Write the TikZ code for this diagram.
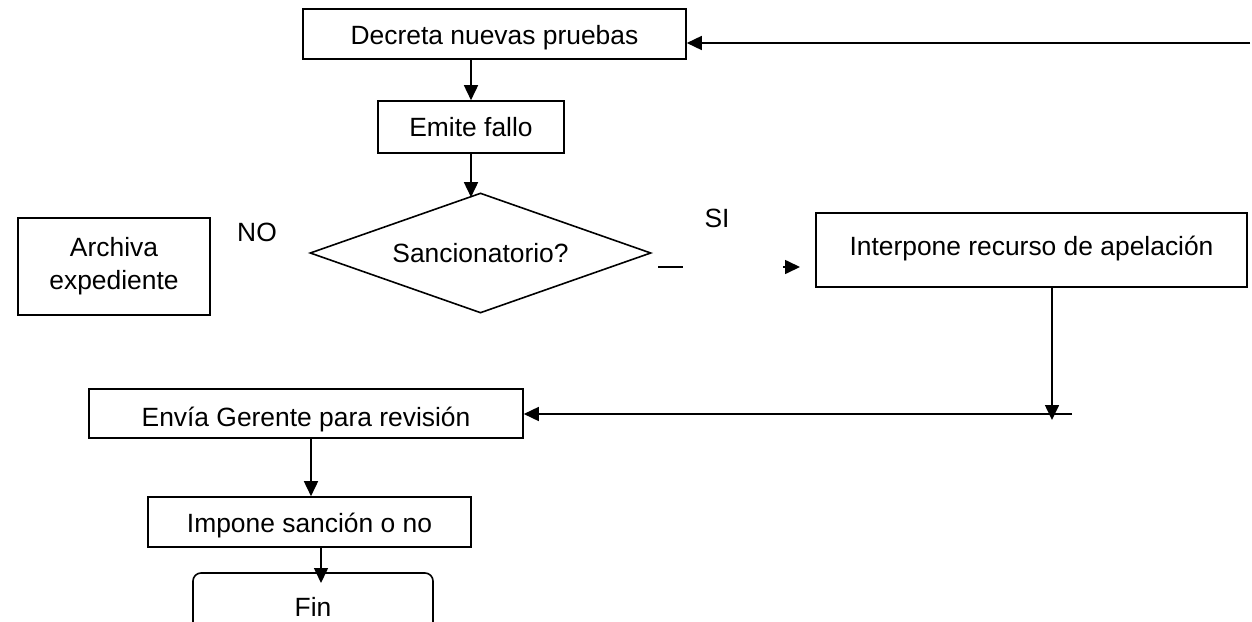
\documentclass[tikz,border=0pt]{standalone}
\usepackage{fontspec}
\setmainfont{Liberation Sans}
\usetikzlibrary{arrows.meta,shapes.geometric}
\begin{document}
\begin{tikzpicture}[x=1pt,y=-1pt,
  every node/.style={font=\fontsize{26.4}{33}\selectfont},
  box/.style={draw,line width=1.6pt,inner sep=0pt},
  one/.style={text depth=0pt},
  lbl/.style={inner sep=0pt},
  arr/.style={line width=1.6pt,-{Triangle[length=15pt,width=14pt]}},
  ln/.style={line width=1.6pt}]
\clip (0,0) rectangle (1252,621);
\useasboundingbox (0,0) rectangle (1252,621);
% nodes
\node[box,one,minimum width=383pt,minimum height=50pt] (dec) at (494.5,34) {\raisebox{-2pt}{Decreta nuevas pruebas}};
\node[box,one,minimum width=186pt,minimum height=52pt] (emite) at (471,127) {Emite fallo};
\node[box,diamond,aspect=2.84,minimum width=341pt,minimum height=120pt] (dia) at (480.5,253) {Sancionatorio?};
\node[box,minimum width=192pt,minimum height=97pt,align=center] (arch) at (114,266.5) {Archiva\\expediente};
\node[lbl] (no) at (257,232) {NO};
\node[lbl] (si) at (717,218) {SI};
\node[box,one,minimum width=431pt,minimum height=74pt] (inter) at (1031.5,250) {\raisebox{8pt}{Interpone recurso de apelación}};
\node[box,one,minimum width=434pt,minimum height=49pt] (envia) at (306,413.5) {\raisebox{-6pt}{Envía Gerente para revisión}};
\node[box,one,minimum width=323pt,minimum height=50pt] (impone) at (309.5,522) {\raisebox{-1.5pt}{Impone sanción o no}};
\node[box,rounded corners=8pt,minimum width=240pt,minimum height=68pt] (fin) at (313,607) {Fin};
% free ends
\coordinate (r1) at (1250,43);
\coordinate (d1) at (658,267);
\coordinate (d2) at (683,267);
\coordinate (a1) at (783,267);
\coordinate (a2) at (800,267);
\coordinate (v1) at (1052,420);
\coordinate (h1) at (1072,414);
\coordinate (f1) at (321,547);
\coordinate (f2) at (321,583);
% connectors
\draw[arr] (r1) -- (r1 -| dec.east);
\draw[arr] (emite.north |- dec.south) -- (emite.north);
\draw[arr] (emite.south) -- ([yshift=-5pt]emite.south |- dia.north);
\draw[ln] (d1) -- (d2);
\draw[arr] (a1) -- (a2);
\draw[arr] (inter.south -| v1) -- (v1);
\draw[arr] (h1) -- (h1 -| envia.east);
\draw[arr] (envia.south -| 311,0) -- (impone.north -| 311,0);
\draw[arr] (f1) -- (f2);
\end{tikzpicture}
\end{document}
